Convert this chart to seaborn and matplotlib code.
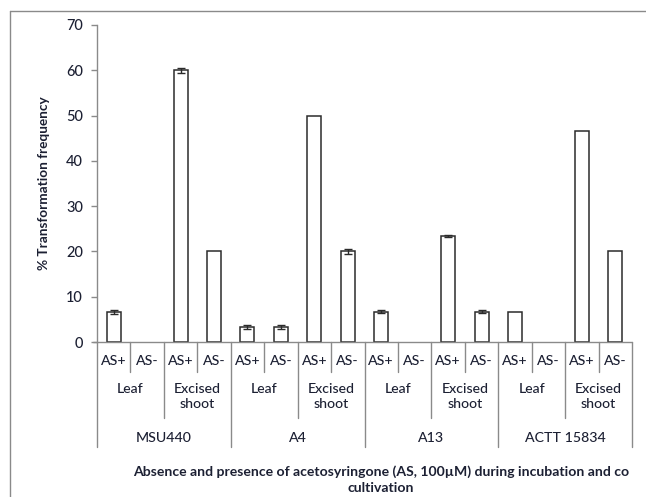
import numpy as np
import pandas as pd
import matplotlib
matplotlib.use("Agg")
import matplotlib.pyplot as plt
import matplotlib.transforms as mtransforms
from matplotlib.lines import Line2D
import seaborn as sns

# ---- data ----
strains = ["MSU440", "A4", "A13", "ACTT 15834"]
tissues = ["Leaf", "Excised\nshoot"]
treatments = ["AS+", "AS-"]
values = [6.67, 0, 60, 20,
          3.33, 3.33, 50, 20,
          6.67, 0, 23.33, 6.67,
          6.67, 0, 46.67, 20]
errors = [0.4, 0, 0.6, 0,
          0.5, 0.5, 0, 0.6,
          0.3, 0, 0.2, 0.3,
          0, 0, 0, 0]
y_ticks = [0, 10, 20, 30, 40, 50, 60, 70]
y_label = "% Transformation frequency"
x_title = "Absence and presence of acetosyringone (AS, 100\u00b5M) during incubation and co\ncultivation"

cats, s_col, t_col, a_col = [], [], [], []
for s in strains:
    for t in tissues:
        for a in treatments:
            cats.append(f"{s}|{t}|{a}")
            s_col.append(s); t_col.append(t); a_col.append(a)
df = pd.DataFrame({"cat": cats, "strain": s_col, "tissue": t_col,
                   "treat": a_col, "value": values, "err": errors})

sns.set_theme(style="white")
plt.rcParams["font.family"] = ["Lato", "DejaVu Sans"]
txt = "#1c2033"
axc = "#8a8a8a"

fig = plt.figure(figsize=(6.46, 4.97), dpi=100)
ax = fig.add_axes([97/646, 1-342/497, (632-97)/646, (342-25)/497])

sns.barplot(data=df, x="cat", y="value", order=cats, color="white",
            edgecolor="#2b2b2b", linewidth=1.1, width=0.42, errorbar=None,
            saturation=1, ax=ax)
for p in ax.patches:
    if p.get_height() == 0:
        p.set_visible(False)
pos = np.arange(len(cats))
mask = df["err"].values > 0
ax.errorbar(pos[mask], df["value"].values[mask], yerr=df["err"].values[mask],
            fmt="none", ecolor="#2b2b2b", elinewidth=1.0, capsize=3, capthick=1.0)

ax.set_xlim(-0.5, len(cats) - 0.5)
ax.set_ylim(0, 70)
ax.set_yticks(y_ticks)
ax.set_xticks([])
ax.set_xlabel("")
ax.set_ylabel(y_label, fontsize=9.8, fontweight="bold", color=txt, labelpad=12)
ax.tick_params(axis="y", direction="out", length=4, width=1, color=axc,
               labelsize=10.5, labelcolor=txt, pad=6, left=True)
for lab in ax.get_yticklabels():
    lab.set_fontweight("medium")
for side in ["top", "right", "bottom"]:
    ax.spines[side].set_visible(False)
ax.spines["left"].set_color(axc)
ax.spines["left"].set_linewidth(1.0)

trans = mtransforms.blended_transform_factory(ax.transData, ax.transAxes)
H = 317.0
def ay(px):
    return -(px - 342) / H

# x axis line
ax.add_line(Line2D([-0.62, len(cats) - 0.5], [0, 0], transform=trans,
                   color=axc, lw=1.0, clip_on=False))

# separators
for i in range(len(cats) + 1):
    b = i - 0.5
    if i % 4 == 0:
        yb = ay(447)
    elif i % 2 == 0:
        yb = ay(418)
    else:
        yb = ay(372)
    ax.add_line(Line2D([b, b], [0, yb], transform=trans, color=axc,
                       lw=1.0, clip_on=False))

# labels
fs = 10.2
for i, a in enumerate(a_col):
    ax.text(i, ay(361), a, transform=trans, ha="center", va="center",
            fontsize=fs, color=txt, fontweight="medium")
for g in range(len(strains) * len(tissues)):
    ax.text(2*g + 0.5, ay(383), tissues[g % 2], transform=trans, ha="center",
            va="top", fontsize=fs, color=txt, linespacing=1.3, fontweight="medium")
for k, s in enumerate(strains):
    ax.text(4*k + 1.5, ay(438), s, transform=trans, ha="center",
            va="center", fontsize=fs, color=txt, fontweight="medium")

fig.text(381/646, 1-480/497, x_title, ha="center", va="center",
         fontsize=10.1, fontweight="bold", color=txt, linespacing=1.4)

# outer frame (left and top visible)
fx = 9.5/646
fy = 1 - 10.5/497
fig.add_artist(Line2D([fx, fx], [0, fy], transform=fig.transFigure,
                      color="#8a8a8a", lw=1.0))
fig.add_artist(Line2D([fx, 1], [fy, fy], transform=fig.transFigure,
                      color="#8a8a8a", lw=1.0))

fig.savefig("out.png", dpi=100, facecolor="white")
